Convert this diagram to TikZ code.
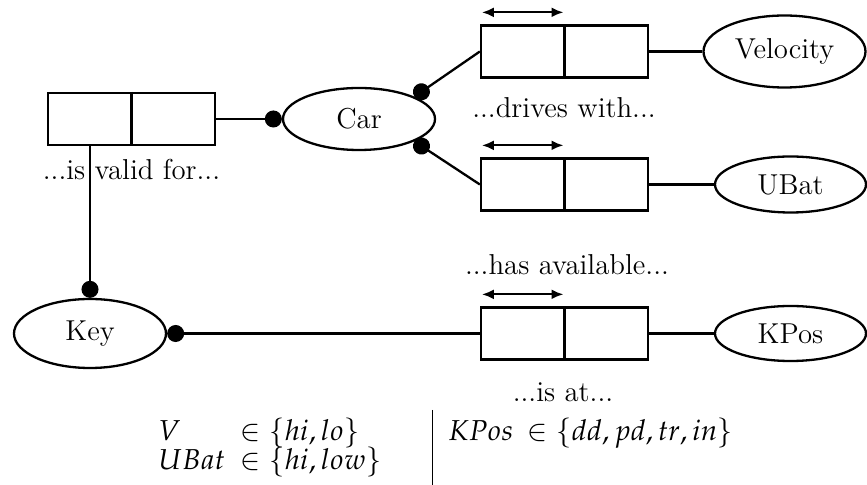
\documentclass[tikz,border=0pt]{standalone}
\usepackage{mathpazo}
\usetikzlibrary{arrows.meta,shapes.geometric}
\begin{document}
\begin{tikzpicture}[x=0.5pt,y=-0.5pt,
  every node/.style={font=\fontsize{14.4}{17.3}\selectfont, inner sep=0pt},
  ent/.style={draw, ellipse, line width=1.15pt, inner sep=0pt},
  relbox/.style={draw, rectangle, line width=1.15pt, minimum width=83.5pt, minimum height=26pt},
  conn/.style={line width=1.15pt},
  dotend/.style={-{Circle[length=8.5pt,width=8.5pt]}},
  dbl/.style={line width=1.15pt,{Latex[length=6pt,width=5pt]}-{Latex[length=6pt,width=5pt]}},
  lbl/.style={anchor=base},
  cell/.style={anchor=base west}]
\useasboundingbox (0,0) rectangle (867,485);
% relationship boxes
\node[relbox] (vb) at (131.5,119) {};
\node[relbox] (dw) at (564.5,51.5) {};
\node[relbox] (ha) at (564.5,184.5) {};
\node[relbox] (ia) at (564.5,333.5) {};
\foreach \b in {vb,dw,ha,ia} \draw[conn] (\b.north) -- (\b.south);
\foreach \b in {dw,ha,ia} \draw[dbl] ([xshift=1pt,yshift=6pt]\b.north west) -- ([xshift=-0.5pt,yshift=6pt]\b.north);
% entities
\node[ent, minimum width=76pt, minimum height=31pt] (car) at (359,119) {Car};
\node[ent, minimum width=81pt, minimum height=36pt] (vel) at (784.5,51.5) {Velocity};
\node[ent, minimum width=75.5pt, minimum height=28pt] (ubat) at (790.5,184.5) {UBat};
\node[ent, minimum width=75.5pt, minimum height=27.5pt] (kpos) at (790.5,333.5) {KPos};
\node[ent, minimum width=76pt, minimum height=34.5pt] (key) at (90,333.5) {Key};
% connectors
\draw[conn,dotend] (vb.east) -- (car.west);
\draw[conn,dotend] (dw.west) -- (car.22);
\draw[conn,dotend] (ha.west) -- (car.-22);
\draw[conn] (dw.east) -- (vel.west);
\draw[conn] (ha.east) -- (ubat.west);
\draw[conn] (ia.east) -- (kpos.west);
\draw[conn,dotend] (ia.west) -- (key.east);
\draw[conn,dotend] (key.north |- vb.south) -- (key.north);
% labels
\node[lbl] (vbl) at (131.5,180) {...is valid for...};
\node[lbl] (dwl) at (564,118) {...drives with...};
\node[lbl] (hal) at (567,275) {...has available...};
\node[lbl] (ial) at (563,402) {...is at...};
% domains
\node[cell] (v) at (158,441) {$V$};
\node[cell] (vin) at (240,441) {$\in \{hi, lo\}$};
\node[cell] (ub) at (158,470) {$UBat$};
\node[cell] (ubin) at (240,470) {$\in \{hi, low\}$};
\node[cell] (kp) at (448,441) {$KPos$};
\node[cell] (kpin) at (527,441) {$\in \{dd, pd, tr, in\}$};
\draw[line width=0.5pt] (432,410) -- (432,485);
\end{tikzpicture}
\end{document}
